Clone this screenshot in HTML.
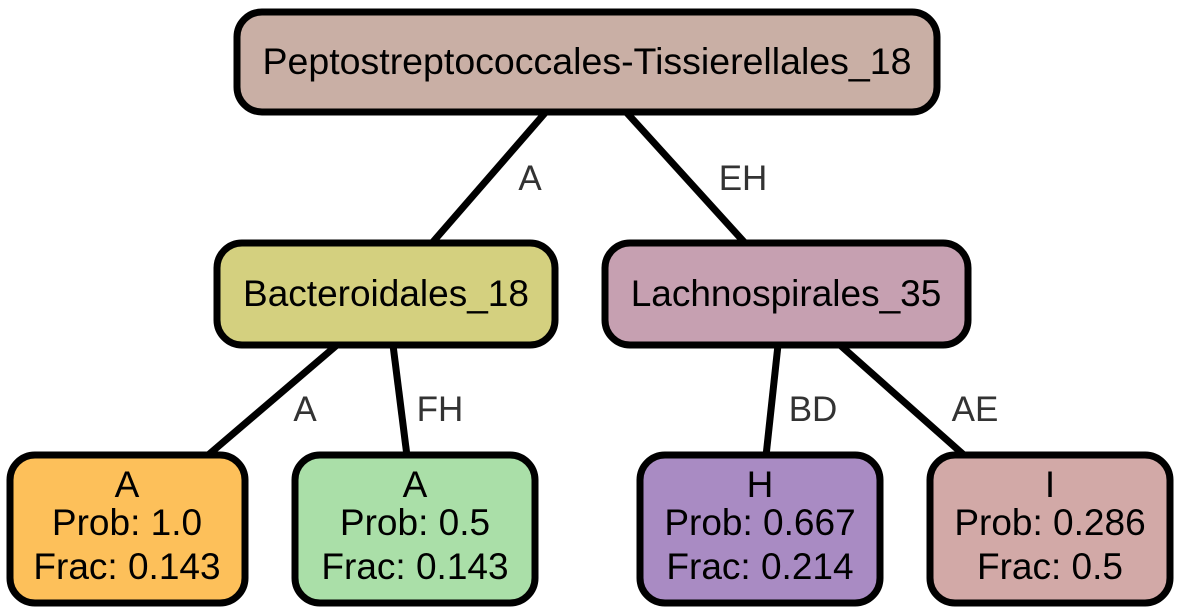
<!DOCTYPE html>
<html><head><meta charset="utf-8"><style>
html,body{margin:0;padding:0;background:#fff;}
svg{display:block;font-family:"Liberation Sans",Arial,sans-serif;}
</style></head><body>
<svg width="1179" height="613" viewBox="0 0 1179 613">
<g stroke="#000" stroke-width="7" fill="none">
<line x1="545" y1="113" x2="432" y2="243"/>
<line x1="627" y1="113" x2="745" y2="243"/>
<line x1="337" y1="345" x2="207" y2="456"/>
<line x1="393" y1="345" x2="407" y2="456"/>
<line x1="778" y1="345" x2="766" y2="456"/>
<line x1="840" y1="345" x2="965" y2="456"/>
</g>
<g font-size="35" fill="#333" text-anchor="middle">
<text x="530" y="190">A</text>
<text x="743" y="190">EH</text>
<text x="305" y="421">A</text>
<text x="440" y="421">FH</text>
<text x="813" y="421">BD</text>
<text x="975" y="421">AE</text>
</g>
<g stroke="#000" stroke-width="7">
<rect x="237" y="12" width="700" height="100" rx="25" fill="#c9afa5"/>
<rect x="217" y="243" width="338" height="102" rx="25" fill="#d4d07f"/>
<rect x="605" y="243" width="363" height="102" rx="25" fill="#c6a0b1"/>
<rect x="10" y="455" width="235" height="148" rx="25" fill="#fdc05a"/>
<rect x="295" y="455" width="240" height="148" rx="25" fill="#aadfa8"/>
<rect x="640" y="455" width="240" height="148" rx="25" fill="#a98bc3"/>
<rect x="930" y="455" width="240" height="148" rx="25" fill="#d2a9a7"/>
</g>
<g font-size="37" fill="#000" text-anchor="middle">
<text x="587" y="74" font-size="37.5">Peptostreptococcales-Tissierellales_18</text>
<text x="386" y="306">Bacteroidales_18</text>
<text x="786" y="306">Lachnospirales_35</text>
<g><text x="127" y="497">A</text><text x="127" y="535">Prob: 1.0</text><text x="127" y="579">Frac: 0.143</text></g>
<g><text x="415" y="497">A</text><text x="415" y="535">Prob: 0.5</text><text x="415" y="579">Frac: 0.143</text></g>
<g><text x="760" y="497">H</text><text x="760" y="535">Prob: 0.667</text><text x="760" y="579">Frac: 0.214</text></g>
<g><text x="1050" y="497">I</text><text x="1050" y="535">Prob: 0.286</text><text x="1050" y="579">Frac: 0.5</text></g>
</g>
</svg>
</body></html>
